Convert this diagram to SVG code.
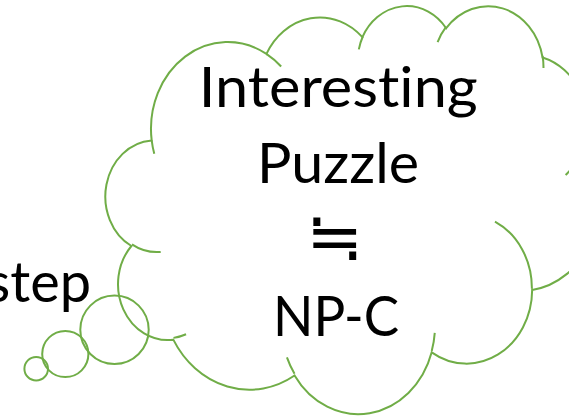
<svg xmlns="http://www.w3.org/2000/svg" width="569" height="416" viewBox="0 0 569 416">
<style>
.ln{fill:none;stroke:#70AD47;stroke-width:2;}
.t{font-family:Lato,"Open Sans",sans-serif;font-size:56px;fill:#000;font-variant-ligatures:none;font-feature-settings:"liga" 0,"clig" 0;}
.m{font-family:"DejaVu Sans","Noto Sans CJK JP",sans-serif;font-size:68px;fill:#000;}
</style>
<rect width="569" height="416" fill="#fff"/>
<g id="cloud-callout">
<path class="ln" d="M151.69,140.47 A76.69,86.76 0 0 1 266.44,53.91 A60.56,68.61 0 0 1 362.41,37.20 A49.57,56.13 0 0 1 446.19,28.22 A55.16,62.26 0 0 1 542.55,57.45 A60.56,68.66 0 0 1 582.30,150.76 A76.94,87.05 0 0 1 532.17,289.95 A65.69,74.27 0 0 1 431.69,352.36 A76.68,87.00 0 0 1 294.56,375.50 A87.67,99.54 0 0 1 173.31,339.66 A49.51,55.87 0 0 1 131.39,245.99 A49.34,56.13 0 0 1 151.69,140.47 Z"/>
<path class="ln" d="M160.69,251.94 A49.34,56.13 0 0 1 131.93,244.41 M186.07,334.28 A49.51,55.87 0 0 1 173.49,337.88 M294.52,373.85 A76.68,87.00 0 0 1 286.94,357.42 M434.76,332.88 A76.68,87.00 0 0 1 431.73,350.91 M494.97,221.51 A65.69,74.27 0 0 1 531.89,288.87 M582.06,149.76 A60.56,68.66 0 0 1 565.61,175.02 M542.61,56.03 A55.16,62.26 0 0 1 543.48,67.96 M437.61,42.11 A55.16,62.26 0 0 1 446.04,26.89 M358.83,49.36 A49.57,56.13 0 0 1 362.91,36.24 M266.38,53.82 A76.69,86.76 0 0 1 281.14,66.54 M154.27,153.86 A76.69,86.76 0 0 1 151.69,140.47"/>
<circle class="ln" cx="114.5" cy="329.8" r="34.2"/>
<circle class="ln" cx="65.3" cy="354" r="23.1"/>
<circle class="ln" cx="36.2" cy="368.7" r="11.8"/>
</g>
<g id="labels">
<text class="t" x="338.3" y="107" text-anchor="middle" textLength="279" lengthAdjust="spacingAndGlyphs">Interesting</text>
<text class="t" x="338" y="183" text-anchor="middle" textLength="162" lengthAdjust="spacingAndGlyphs">Puzzle</text>
<text class="m" x="334.7" y="260" text-anchor="middle">≒</text>
<text class="t" x="336" y="336" text-anchor="middle" textLength="126" lengthAdjust="spacingAndGlyphs">NP-C</text>
<text class="t" x="91" y="302" text-anchor="end" textLength="105" lengthAdjust="spacingAndGlyphs">step</text>
</g>
</svg>
